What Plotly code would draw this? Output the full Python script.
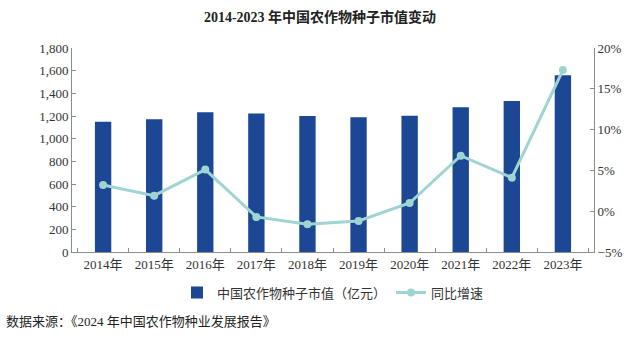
import plotly.graph_objects as go

years = ["2014年", "2015年", "2016年", "2017年", "2018年", "2019年", "2020年", "2021年", "2022年", "2023年"]
market_value = [1150, 1171, 1233, 1221, 1200, 1189, 1203, 1277, 1333, 1559]
growth = [3.2, 1.9, 5.1, -0.7, -1.6, -1.2, 1.0, 6.8, 4.1, 17.3]

title_text = "<b>2014-2023 年中国农作物种子市值变动</b>"
bar_name = "中国农作物种子市值（亿元）"
line_name = "同比增速"
source_text = "数据来源：《2024 年中国农作物种业发展报告》"

FONT = "Liberation Serif, Noto Sans CJK SC"
AXIS_COLOR = "#8c8c8c"
BAR_COLOR = "#1B4794"
LINE_COLOR = "#A0D4D2"

fig = go.Figure()
fig.add_trace(go.Bar(
    x=years, y=market_value, name=bar_name,
    marker=dict(color=BAR_COLOR, line=dict(width=0)),
    yaxis="y",
))
fig.add_trace(go.Scatter(
    x=years, y=growth, name=line_name, mode="lines+markers",
    line=dict(color=LINE_COLOR, width=3),
    marker=dict(color=LINE_COLOR, size=8),
    yaxis="y2",
))

fig.update_layout(
    width=640, height=338,
    margin=dict(l=72, r=46, t=48, b=86),
    paper_bgcolor="white", plot_bgcolor="white",
    font=dict(family=FONT, size=13, color="#333333"),
    bargap=0.68,
    showlegend=True,
    title=dict(text=title_text, x=0.5, xanchor="center", y=0.95, yanchor="middle",
               font=dict(family=FONT, size=14, color="#222222")),
    legend=dict(orientation="h", x=0.5, xanchor="center", y=-0.125, yanchor="top",
                font=dict(family=FONT, size=13, color="#333333"),
                itemwidth=30, tracegroupgap=0),
    xaxis=dict(
        showline=True, linecolor=AXIS_COLOR, linewidth=1,
        ticks="inside", tickson="boundaries", ticklen=4, tickcolor=AXIS_COLOR,
        showgrid=False, tickfont=dict(family=FONT, size=13, color="#333333"),
    ),
    yaxis=dict(
        range=[0, 1800], dtick=200, tickformat=",",
        showline=True, linecolor=AXIS_COLOR, linewidth=1,
        ticks="inside", ticklen=4, tickcolor=AXIS_COLOR,
        showgrid=False, zeroline=False,
        tickfont=dict(family=FONT, size=13, color="#333333"),
    ),
    yaxis2=dict(
        range=[-5, 20], dtick=5, ticksuffix="%", overlaying="y", side="right",
        showline=True, linecolor=AXIS_COLOR, linewidth=1,
        ticks="inside", ticklen=4, tickcolor=AXIS_COLOR,
        showgrid=False, zeroline=False,
        tickfont=dict(family=FONT, size=13, color="#333333"),
    ),
    annotations=[dict(
        text=source_text, xref="paper", yref="paper", x=-0.13, y=-0.34,
        xanchor="left", yanchor="middle", showarrow=False,
        font=dict(family=FONT, size=13, color="#222222"),
    )],
)

fig.write_html("out.html")
